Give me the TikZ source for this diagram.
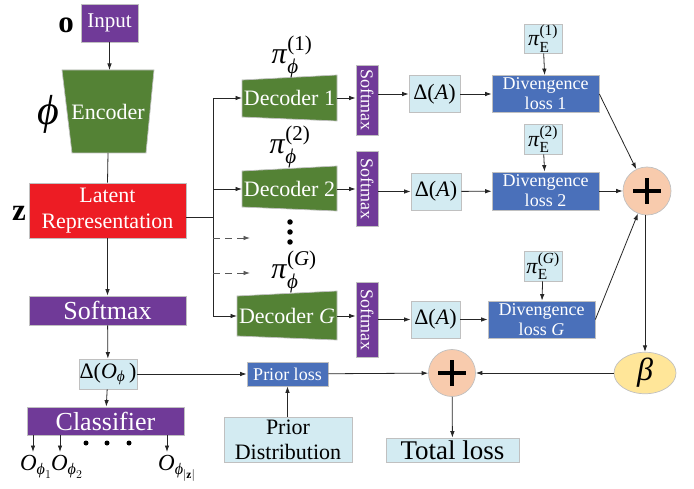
\documentclass[tikz,border=0pt]{standalone}
\usepackage{amsmath}
\usepackage{fontspec}
\setmainfont{Liberation Serif}
\usetikzlibrary{arrows.meta,shapes.geometric,calc}
\definecolor{cpurple}{HTML}{703A98}
\definecolor{cgreen}{HTML}{548235}
\definecolor{cred}{HTML}{ED1C24}
\definecolor{clight}{HTML}{D3EBF2}
\definecolor{cblue}{HTML}{4A70BA}
\definecolor{cpeach}{HTML}{F8CBAD}
\definecolor{cyellow}{HTML}{FFE699}
\definecolor{bgray}{HTML}{C0C0C0}
\newcommand{\fs}[1]{\fontsize{#1}{#1}\selectfont}
\newcommand{\Tpi}{\text{\textit{π}}}
\newcommand{\Tphi}{\text{\textit{ϕ}}}
\newcommand{\TO}{\text{\textit{O}}}
\begin{document}
\begin{tikzpicture}[x=1pt,y=-1pt,
  box/.style={draw=bgray, line width=0.7pt, inner sep=0pt, align=center},
  pbox/.style={box, fill=cpurple, text=white},
  lbox/.style={box, fill=clight, text=black},
  bbox/.style={box, fill=cblue, text=white},
  arr/.style={-{Latex[length=6.5pt,width=4.5pt]}, line width=0.8pt, draw=black!85},
  ln/.style={line width=0.8pt, draw=black!85},
  darr/.style={arr, draw=black!65, dash pattern=on 7pt off 5pt},
  trap/.style={fill=cgreen, draw=bgray, line width=0.7pt},
  plusc/.style={circle, fill=cpeach, draw=bgray, line width=0.7pt, minimum size=48pt, inner sep=0pt},
  plusbar/.style={line width=3.8pt, draw=black},
  lab/.style={inner sep=0pt}
]
\useasboundingbox (0,0) rectangle (694,489);

% ---- left column ----
\node[pbox, minimum width=57pt, minimum height=38pt, font=\fs{21}] (input) at (109.5,23) {Input};
\node[lab, font=\fs{31}\bfseries] (olab) at (66,25) {o};

\fill[trap] (62,70) -- (154,70) -- (146,153) -- (72,153) -- cycle;
\node[text=white, font=\fs{22}] (enc) at (108,112) {Encoder};
\coordinate (enctop) at (109.5,70);
\coordinate (encbot) at (108,153);
\node[lab, font=\fs{42}] (philab) at (48,114) {\textit{ϕ}};

\node[box, fill=cred, text=white, minimum width=157pt, minimum height=55pt, font=\fontsize{22}{26}\selectfont] (latent) at (107.5,210.5) {Latent\\Representation};
\node[lab, font=\fs{31}\bfseries] (zlab) at (19,213) {z};

\node[pbox, minimum width=157pt, minimum height=29pt, font=\fs{26}] (smax) at (107.5,310.5) {Softmax};
\node[lbox, minimum width=58pt, minimum height=30pt, font=\fs{22}] (dO) at (108,374) {Δ($\TO_{\Tphi}$\,)};
\node[pbox, minimum width=157pt, minimum height=28pt, font=\fs{26}] (cls) at (105.5,421) {Classifier};

\coordinate (c1) at (33,435); \coordinate (c1e) at (33,452);
\coordinate (c2) at (60,435); \coordinate (c2e) at (60,452);
\coordinate (c3) at (167,435); \coordinate (c3e) at (167,452);
\node[lab, font=\fs{23}, anchor=north] (o1) at ([xshift=3pt,yshift=-3pt]c1e) {$\TO_{\Tphi_1}$};
\node[lab, font=\fs{23}, anchor=north] (o2) at ([xshift=7pt,yshift=-3pt]c2e) {$\TO_{\Tphi_2}$};
\node[lab, font=\fs{23}, anchor=north] (o3) at ([xshift=10pt,yshift=-3pt]c3e) {$\TO_{\Tphi_{|\mathbf{z}|}}$};
\foreach \x/\n in {86/a,107/b,129/c} \node[circle, fill=black, inner sep=0pt, minimum size=5pt] (cdot\n) at (\x,443) {};

\draw[arr] (input) -- (enctop);
\draw[ln] (encbot) -- (latent.north);
\draw[arr] (latent) -- (smax);
\draw[arr] (smax) -- (dO);
\draw[arr] (dO) -- (cls);
\draw[arr] (c1) -- (c1e);
\draw[arr] (c2) -- (c2e);
\draw[arr] (c3) -- (c3e);

% ---- decoders ----
\coordinate (busmid) at (213,217);
\coordinate (bustop) at (213,98);
\coordinate (busbot) at (213,316);
\coordinate (busd1) at (213,238);
\coordinate (busd2) at (213,273);
\coordinate (d1e) at (250,238);
\coordinate (d2e) at (250,273);

\fill[trap] (242,80) -- (337,75) -- (337,121) -- (242,117) -- cycle;
\node[text=white, font=\fs{22}] (dec1) at (289.5,98) {Decoder 1};
\fill[trap] (242,171) -- (337,166) -- (337,211) -- (242,207) -- cycle;
\node[text=white, font=\fs{22}] (dec2) at (289.5,189) {Decoder 2};
\fill[trap] (237,296) -- (337,291) -- (337,340) -- (237,336) -- cycle;
\node[text=white, font=\fs{22}] (decG) at (287,316) {Decoder \textit{G}};
\coordinate (dec1w) at (242,98);
\coordinate (dec2w) at (242,189);
\coordinate (decGw) at (237,316);
\coordinate (dec1e) at (337,98);
\coordinate (dec2e) at (337,189);
\coordinate (decGe) at (337,316);

\node[lab, font=\fs{30}] (pp1) at (292,57) {$\Tpi_{\Tphi}^{\text{(1)}}$};
\node[lab, font=\fs{30}] (pp2) at (290,147) {$\Tpi_{\Tphi}^{\text{(2)}}$};
\node[lab, font=\fs{30}] (ppG) at (294,272) {$\Tpi_{\Tphi}^{\text{(\textit{G})}}$};
\foreach \y/\n in {222/a,232/b,242/c} \node[circle, fill=black, inner sep=0pt, minimum size=5.5pt] (vdot\n) at (290,\y) {};

\draw[ln] (latent.east |- busmid) -- (busmid);
\draw[ln] (bustop) -- (busbot);
\draw[arr] (bustop) -- (dec1w);
\draw[arr] (dec2w -| busmid) -- (dec2w);
\draw[arr] (busbot) -- (decGw);
\draw[darr] (busd1) -- (d1e);
\draw[darr] (busd2) -- (d2e);

% ---- softmax columns ----
\node[pbox, minimum width=22pt, minimum height=70pt] (sm1) at (367,100) {};
\node[text=white, rotate=-90, font=\fs{18}] (sm1t) at (sm1) {Softmax};
\node[pbox, minimum width=22pt, minimum height=75pt] (sm2) at (367,188.5) {};
\node[text=white, rotate=-90, font=\fs{18}] (sm2t) at (sm2) {Softmax};
\node[pbox, minimum width=22pt, minimum height=75pt] (smG) at (367,319.5) {};
\node[text=white, rotate=-90, font=\fs{18}] (smGt) at (smG) {Softmax};

\draw[arr] (dec1e) -- (dec1e -| sm1.west);
\draw[arr] (dec2e) -- (dec2e -| sm2.west);
\draw[arr] (decGe) -- (decGe -| smG.west);

% ---- Delta(A), divergence ----
\node[lbox, minimum width=51pt, minimum height=37pt, font=\fs{22}] (da1) at (434.5,94) {Δ(\textit{A})};
\node[lbox, minimum width=50pt, minimum height=37pt, font=\fs{22}] (da2) at (436,191.5) {Δ(\textit{A})};
\node[lbox, minimum width=49pt, minimum height=37pt, font=\fs{22}] (daG) at (435.5,319.5) {Δ(\textit{A})};

\node[bbox, minimum width=107pt, minimum height=37pt, font=\fontsize{18}{20}\selectfont] (div1) at (545.5,94) {Divengence\\loss 1};
\node[bbox, minimum width=107pt, minimum height=38pt, font=\fontsize{18}{20}\selectfont] (div2) at (545.5,191) {Divengence\\loss 2};
\node[bbox, minimum width=107pt, minimum height=37pt, font=\fontsize{18}{20}\selectfont] (divG) at (541.5,319.5) {Divengence\\loss \textit{G}};

\node[lbox, minimum width=38pt, minimum height=29pt, font=\fs{22}] (pe1) at (543,38.5) {$\Tpi_{\text{E}}^{\text{(1)}}$};
\node[lbox, minimum width=38pt, minimum height=30pt, font=\fs{22}] (pe2) at (543,139) {$\Tpi_{\text{E}}^{\text{(2)}}$};
\node[lbox, minimum width=38pt, minimum height=30pt, font=\fs{22}] (peG) at (543,266) {$\Tpi_{\text{E}}^{\text{(\textit{G})}}$};

\draw[arr] (da1.west -| sm1.east) -- (da1.west);
\draw[arr] (da2.west -| sm2.east) -- (da2.west);
\draw[arr] (daG.west -| smG.east) -- (daG.west);
\draw[arr] (da1) -- (div1);
\draw[arr] (da2) -- (div2);
\draw[arr] (daG) -- (divG);
\draw[arr] (pe1) -- (div1);
\draw[arr] (pe2) -- (div2);
\draw[arr] (peG) -- (divG);

% ---- sums ----
\node[plusc] (plus1) at (647,191) {};
\draw[plusbar] ([xshift=-14pt]plus1.center) -- ([xshift=14pt]plus1.center);
\draw[plusbar] ([yshift=-13pt]plus1.center) -- ([yshift=13pt]plus1.center);

\node[ellipse, fill=cyellow, draw=bgray, line width=0.7pt, minimum width=62pt, minimum height=38pt, inner sep=0pt, font=\fs{32}] (beta) at (645,373) {\textit{β}};

\node[plusc, minimum size=47pt] (plus2) at (452,373) {};
\draw[plusbar] ([xshift=-14pt]plus2.center) -- ([xshift=14pt]plus2.center);
\draw[plusbar] ([yshift=-13pt]plus2.center) -- ([yshift=13pt]plus2.center);

\draw[arr] (div1.east) -- (plus1);
\draw[arr] (div2.east) -- (plus1);
\draw[arr] (divG.east) -- (plus1);
\draw[arr] (plus1.south -| beta.north) -- (beta.north);
\draw[arr] (beta) -- (plus2);

% ---- prior / total ----
\node[bbox, minimum width=81pt, minimum height=24pt, font=\fs{18}] (prior) at (287.5,374) {Prior loss};
\node[lbox, minimum width=128pt, minimum height=45pt, font=\fontsize{22}{25}\selectfont] (pdist) at (288,439.5) {Prior\\Distribution};
\node[lbox, minimum width=133pt, minimum height=24pt, font=\fs{27}] (total) at (452.5,450) {Total loss};

\draw[arr] (dO) -- (prior);
\draw[arr] (pdist.north -| prior.south) -- (prior.south);
\draw[arr] (prior) -- (plus2);
\draw[arr] (plus2) -- (total);
\end{tikzpicture}
\end{document}
